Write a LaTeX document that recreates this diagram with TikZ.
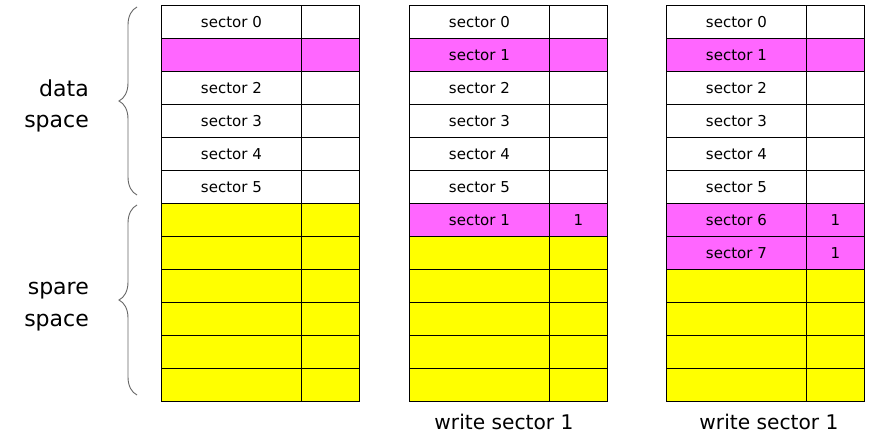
\documentclass[tikz,border=0pt]{standalone}
\usepackage{fontspec}
\setmainfont{DejaVu Sans}
\usetikzlibrary{decorations.pathreplacing}
\definecolor{mag}{HTML}{FF66FF}
\definecolor{yel}{HTML}{FFFF00}
\tikzset{
  cellbox/.style={draw=black, line width=0.8pt, inner sep=0pt, anchor=north west,
    minimum height=33pt, font=\fontsize{15pt}{18pt}\selectfont},
  wide/.style={cellbox, minimum width=140pt},
  narrow/.style={cellbox, minimum width=58pt},
  bracestyle/.style={draw=black!60, line width=0.9pt, decorate,
    decoration={brace, amplitude=18pt}},
  sidelabel/.style={anchor=base east, inner sep=0pt, font=\fontsize{22pt}{26pt}\selectfont},
  caption/.style={anchor=base, inner sep=0pt, font=\fontsize{20.2pt}{24pt}\selectfont}
}
% \cellrow{name}{left x}{row index}{text}{flag}{fill}
\newcommand{\cellrow}[6]{%
  \node[wide, fill=#6] (#1-#3a) at (#2pt,{-(5+33*#3)*1pt}) {#4};
  \node[narrow, fill=#6] (#1-#3b) at ({(#2+140)*1pt},{-(5+33*#3)*1pt}) {#5};
}
\begin{document}
\begin{tikzpicture}[x=1pt,y=-1pt]
\useasboundingbox (0,0) rectangle (892,433);
% table 1
\cellrow{A}{161}{0}{sector 0}{}{white}
\cellrow{A}{161}{1}{}{}{mag}
\cellrow{A}{161}{2}{sector 2}{}{white}
\cellrow{A}{161}{3}{sector 3}{}{white}
\cellrow{A}{161}{4}{sector 4}{}{white}
\cellrow{A}{161}{5}{sector 5}{}{white}
\foreach \r in {6,...,11}{\cellrow{A}{161}{\r}{}{}{yel}}
% table 2
\cellrow{B}{409}{0}{sector 0}{}{white}
\cellrow{B}{409}{1}{sector 1}{}{mag}
\cellrow{B}{409}{2}{sector 2}{}{white}
\cellrow{B}{409}{3}{sector 3}{}{white}
\cellrow{B}{409}{4}{sector 4}{}{white}
\cellrow{B}{409}{5}{sector 5}{}{white}
\cellrow{B}{409}{6}{sector 1}{1}{mag}
\foreach \r in {7,...,11}{\cellrow{B}{409}{\r}{}{}{yel}}
% table 3
\cellrow{C}{666}{0}{sector 0}{}{white}
\cellrow{C}{666}{1}{sector 1}{}{mag}
\cellrow{C}{666}{2}{sector 2}{}{white}
\cellrow{C}{666}{3}{sector 3}{}{white}
\cellrow{C}{666}{4}{sector 4}{}{white}
\cellrow{C}{666}{5}{sector 5}{}{white}
\cellrow{C}{666}{6}{sector 6}{1}{mag}
\cellrow{C}{666}{7}{sector 7}{1}{mag}
\foreach \r in {8,...,11}{\cellrow{C}{666}{\r}{}{}{yel}}
% braces
\coordinate (d1) at (137,195);
\coordinate (d2) at (137,7);
\coordinate (s1) at (137,395);
\coordinate (s2) at (137,205);
\draw[bracestyle] (d1) -- (d2);
\draw[bracestyle] (s1) -- (s2);
% side labels
\node[sidelabel] (dlab1) at (89,97) {data};
\node[sidelabel] (dlab2) at (89,128) {space};
\node[sidelabel] (slab1) at (89,294) {spare};
\node[sidelabel] (slab2) at (89,326) {space};
% captions
\node[caption] (cap2) at (504,429) {write sector 1};
\node[caption] (cap3) at (769,429) {write sector 1};
\end{tikzpicture}
\end{document}
